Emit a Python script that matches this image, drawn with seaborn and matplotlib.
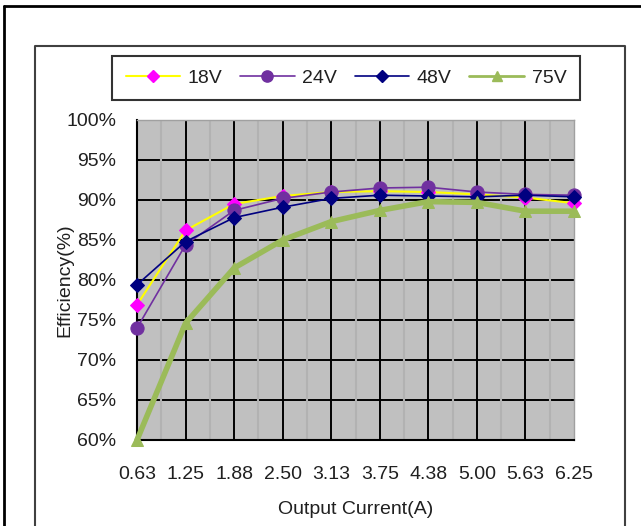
import numpy as np
import pandas as pd
import matplotlib
matplotlib.use('Agg')
import matplotlib.pyplot as plt
from matplotlib.lines import Line2D
import seaborn as sns

# 데이터
currents = ['0.63', '1.25', '1.88', '2.50', '3.13', '3.75', '4.38', '5.00', '5.63', '6.25']
eff_18v = [76.9, 86.2, 89.5, 90.5, 91.0, 91.1, 91.0, 90.7, 90.3, 89.6]
eff_24v = [74.0, 84.4, 88.7, 90.2, 91.0, 91.5, 91.6, 91.0, 90.7, 90.6]
eff_48v = [79.4, 84.8, 87.8, 89.1, 90.2, 90.6, 90.5, 90.4, 90.6, 90.4]
eff_75v = [60.0, 74.6, 81.5, 85.0, 87.3, 88.7, 89.8, 89.7, 88.6, 88.6]
y_ticks = [60, 65, 70, 75, 80, 85, 90, 95, 100]

sns.set_style('white')
plt.rcParams['font.family'] = ['Liberation Sans', 'DejaVu Sans']
text_color = '#202020'

fig = plt.figure(figsize=(6.41, 5.26), dpi=100)
ax = fig.add_axes([137/641, 1 - 440/526, 437/641, 320/526])
ax.set_facecolor('#C0C0C0')

x = np.arange(len(currents))

# 격자선 (가는 회색 보조선이 검은 가로선 위에 그려져 끊겨 보임)
for v in x[1:-1]:
    ax.axvline(v, color='black', lw=1.4, zorder=0.6)
for t in y_ticks[1:-1]:
    ax.axhline(t, color='black', lw=1.4, zorder=0.6)
for v in x[:-1]:
    ax.axvline(v + 0.5, color='#B2B2B2', lw=1.5, zorder=0.7)

series = [
    ('18V', eff_18v, '#FFFF00', 'D', '#FF00FF', 7, 1.5),
    ('24V', eff_24v, '#7030A0', 'o', '#7030A0', 9.5, 1.2),
    ('48V', eff_48v, '#000080', 'D', '#000080', 7, 1.2),
    ('75V', eff_75v, '#9BBB59', '^', '#9BBB59', 8.5, 4.0),
]

handles = []
for name, vals, lc, mk, mc, ms, lw in series:
    df = pd.DataFrame({'x': x, 'y': vals})
    sns.lineplot(data=df, x='x', y='y', ax=ax, color=lc, lw=lw, marker=mk,
                 markersize=ms, markerfacecolor=mc, markeredgecolor=mc,
                 clip_on=False, zorder=3)
    handles.append(Line2D([0], [0], color=lc, lw=lw if lw < 3 else 2, marker=mk,
                          markersize=ms * 0.85, markerfacecolor=mc, markeredgecolor=mc))

ax.set_xlim(0, 9)
ax.set_ylim(60, 100)
ax.set_xticks(x)
ax.set_xticklabels(currents)
ax.set_yticks(y_ticks)
ax.set_yticklabels([f'{t}%' for t in y_ticks])
ax.tick_params(axis='both', length=0, labelsize=14, colors=text_color)
ax.tick_params(axis='y', pad=15)
ax.tick_params(axis='x', pad=19)
ax.set_xlabel('Output Current(A)', fontsize=14, color=text_color, labelpad=13)
ax.set_ylabel('Efficiency(%)', fontsize=14, color=text_color, labelpad=-5)

for side in ['left', 'bottom']:
    ax.spines[side].set_color('black')
    ax.spines[side].set_linewidth(1.5)
for side in ['right', 'top']:
    ax.spines[side].set_color('#A0A0A0')
    ax.spines[side].set_linewidth(1.0)

# 범례
leg = fig.legend(handles, ['18V', '24V', '48V', '75V'], ncol=4,
                 loc='center', bbox_to_anchor=(346/641, 1 - 78/526),
                 fontsize=14, frameon=True, fancybox=False, handlelength=2.8,
                 handletextpad=0.4, columnspacing=0.9, borderpad=0.7)
leg.get_frame().set_edgecolor('black')
leg.get_frame().set_linewidth(1.5)
for t in leg.get_texts():
    t.set_color(text_color)

# 바깥 테두리
fig.add_artist(Line2D([4/641, 4/641], [0, 1 - 6/526], color='black', lw=2, transform=fig.transFigure))
fig.add_artist(Line2D([4/641, 1], [1 - 6/526, 1 - 6/526], color='black', lw=2, transform=fig.transFigure))
fig.add_artist(Line2D([35/641, 35/641, 625/641, 625/641], [0, 1 - 46/526, 1 - 46/526, 0],
                      color='#404040', lw=1.5, transform=fig.transFigure))

fig.savefig('out.png', dpi=100)
